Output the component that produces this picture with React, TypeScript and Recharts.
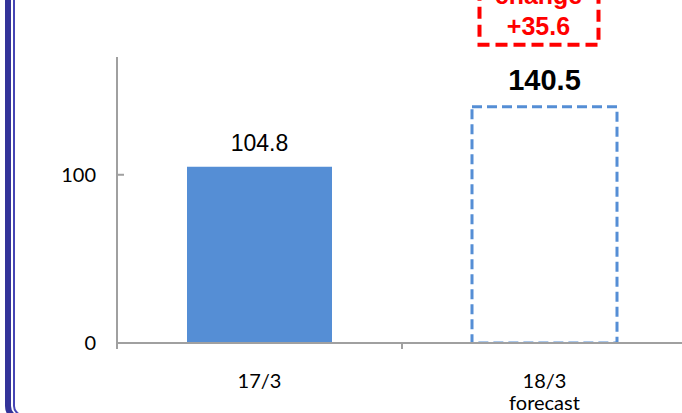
import React from "react";
import { BarChart, Bar, XAxis, YAxis, Cell, LabelList } from "recharts";

const categories = ["17/3", "18/3"];
const subLabels = ["", "forecast"];
const values = [104.8, 140.5];
const changeText = ["change", "+35.6"];
const yTicks = [0, 100];

const data = categories.map((c, i) => ({ name: c, sub: subLabels[i], value: values[i] }));

const BLUE = "#558ed5";
const AXIS = "#a0a0a0";

const XTick = (props: any) => {
  const { x, y, payload, index } = props;
  const half = payload.offset || 0;
  const axisY = y - 8;
  return (
    <g>
      <line x1={x - half} x2={x - half} y1={axisY} y2={axisY + 6} stroke={AXIS} strokeWidth={2} />
      {index === categories.length - 1 && (
        <line x1={x + half} x2={x + half} y1={axisY} y2={axisY + 6} stroke={AXIS} strokeWidth={2} />
      )}
      <text x={x} y={y + 37} textAnchor="middle" fontSize={20} fontFamily="Lato" fill="#000">
        {payload.value}
      </text>
      {data[index] && data[index].sub && (
        <text x={x} y={y + 59} textAnchor="middle" fontSize={20} fontFamily="Lato" fill="#000">
          {data[index].sub}
        </text>
      )}
    </g>
  );
};

// tick x = axis - tickSize - tickMargin = axis - 21
const YTick = (props: any) => {
  const { x, y, payload } = props;
  return (
    <g>
      <line x1={x + 21} x2={x + 28} y1={y} y2={y} stroke={AXIS} strokeWidth={2} />
      <text x={x} y={y} dy={7} textAnchor="end" fontSize={20} fontFamily="Lato" fill="#000">
        {payload.value}
      </text>
    </g>
  );
};

const ValueLabel = (props: any) => {
  const { x, y, width, value, index } = props;
  const cx = x + width / 2;
  if (index === 0) {
    return (
      <text x={cx} y={y - 16} textAnchor="middle" fontSize={23} fontFamily="Liberation Sans" fill="#000">
        {value}
      </text>
    );
  }
  const bx = cx - 6;
  return (
    <g>
      <text x={cx} y={y - 17} textAnchor="middle" fontSize={29} fontWeight="bold" fontFamily="Liberation Sans" fill="#000">
        {value}
      </text>
      <rect x={bx - 59} y={y - 140} width={119} height={78} fill="none" stroke="#ff0000" strokeWidth={4} strokeDasharray="12 6" />
      <text x={bx} y={y - 103} textAnchor="middle" fontSize={25} fontWeight="bold" fontFamily="Liberation Sans" fill="#ff0000">
        {changeText[0]}
      </text>
      <text x={bx} y={y - 72} textAnchor="middle" fontSize={25} fontWeight="bold" fontFamily="Liberation Sans" fill="#ff0000">
        {changeText[1]}
      </text>
    </g>
  );
};

export default function App() {
  return (
    <div style={{ position: "absolute", left: 0, top: 0, width: 682, height: 413, overflow: "hidden", background: "#fff" }}>
      <BarChart width={700} height={413} data={data} margin={{ top: 57, right: 13, left: 0, bottom: 10 }}>
        <XAxis
          dataKey="name"
          height={60}
          axisLine={{ stroke: AXIS, strokeWidth: 2 }}
          tickLine={false}
          tick={<XTick />}
          interval={0}
        />
        <YAxis
          width={117}
          domain={[0, 170]}
          ticks={yTicks}
          axisLine={{ stroke: AXIS, strokeWidth: 2 }}
          tickLine={false}
          tickSize={1}
          tickMargin={20}
          tick={<YTick />}
          allowDataOverflow
        />
        <Bar dataKey="value" barSize={145} isAnimationActive={false}>
          {data.map((_, i) => (
            <Cell
              key={i}
              fill={i === 0 ? BLUE : "#fff"}
              stroke={i === 0 ? "none" : BLUE}
              strokeWidth={i === 0 ? 0 : 3}
              strokeDasharray={i === 0 ? undefined : "10 5"}
            />
          ))}
          <LabelList dataKey="value" content={<ValueLabel />} />
        </Bar>
      </BarChart>
      <div style={{ position: "absolute", left: 5, top: -30, width: 800, height: 452, boxSizing: "border-box", borderLeft: "6px solid #333399", borderBottom: "6px solid #333399", borderBottomLeftRadius: 16, pointerEvents: "none" }} />
      <div style={{ position: "absolute", left: 13, top: -30, width: 800, height: 446, boxSizing: "border-box", borderLeft: "2px solid #4646b4", borderBottom: "2px solid #4646b4", borderBottomLeftRadius: 10, pointerEvents: "none" }} />
    </div>
  );
}
